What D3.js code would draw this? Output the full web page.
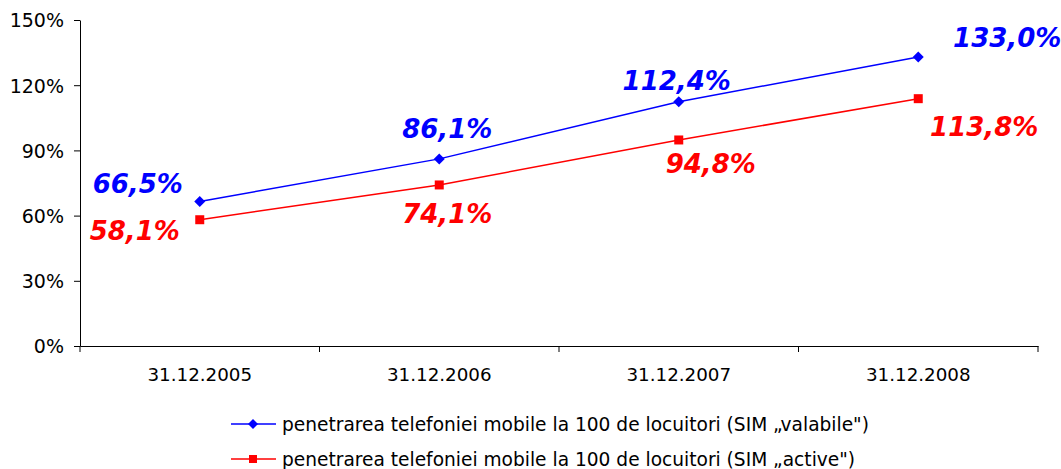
<!DOCTYPE html>
<html>
<head>
<meta charset="utf-8">
<script src="https://cdn.jsdelivr.net/npm/d3@7"></script>
<style>
  body { margin: 0; background: #fff; }
  svg { display: block; font-family: "DejaVu Sans", Verdana, sans-serif; }
</style>
</head>
<body>
<svg id="chart" width="1061" height="469"></svg>
<script>
  /*
    Data
  */
  const dates = ["31.12.2005", "31.12.2006", "31.12.2007", "31.12.2008"];
  const valabile = [66.5, 86.1, 112.4, 133.0];
  const active = [58.1, 74.1, 94.8, 113.8];
  const yTicks = [0, 30, 60, 90, 120, 150];
  const legendLabels = [
    "penetrarea telefoniei mobile la 100 de locuitori (SIM \u201evalabile\")",
    "penetrarea telefoniei mobile la 100 de locuitori (SIM \u201eactive\")"
  ];

  // label placement relative to each point (dx, dy of baseline)
  const blueOffsets = [[-62, -8], [8, -21], [-2, -12], [89, -10]];
  const redOffsets = [[-65, 20], [8, 38], [32, 33], [66, 37]];

  const svg = d3.select("#chart");
  const margin = { left: 80, right: 23, top: 20, bottom: 123 };
  const width = 1061 - margin.left - margin.right;
  const height = 469 - margin.top - margin.bottom;

  const g = svg.append("g").attr("transform", `translate(${margin.left},${margin.top})`);

  let x = d3.scaleBand().domain(dates).range([0, width]);
  let y = d3.scaleLinear().domain([0, 150]).range([height, 0]);

  const fmt = v => v.toFixed(1).replace(".", ",") + "%";

  // square diamond (equal diagonals), r = half diagonal
  const diamond = r => `M0,${-r}L${r},0L0,${r}L${-r},0Z`;
  const square = r => `M${-r},${-r}H${r}V${r}H${-r}Z`;

  /*
    Axes
  */
  let yAxis = g.append("g")
    .call(d3.axisLeft(y).tickValues(yTicks).tickSize(6).tickSizeOuter(0).tickFormat(d => d + "%"));
  yAxis.select(".domain").attr("stroke", "#000");
  yAxis.selectAll("text").attr("font-size", 19).attr("fill", "#000").attr("font-family", "DejaVu Sans").attr("x", -16).attr("dy", "0.36em");

  let xAxis = g.append("g").attr("transform", `translate(0,${height})`)
    .call(d3.axisBottom(x).tickSize(0).tickSizeOuter(0));
  xAxis.selectAll("text").attr("font-size", 18.3).attr("fill", "#000").attr("font-family", "DejaVu Sans").attr("dy", "1.75em");
  // tick marks at band boundaries
  const bounds = dates.map(d => x(d)).concat([width]);
  xAxis.selectAll(".bnd").data(bounds).enter().append("line")
    .attr("x1", d => d).attr("x2", d => d).attr("y1", 0).attr("y2", 6)
    .attr("stroke", "#000");

  /*
    Series
  */
  const line = d3.line().x((d, i) => x(dates[i]) + x.bandwidth() / 2).y(d => y(d));

  function drawSeries(values, color, shape, offsets) {
    g.append("path").datum(values)
      .attr("fill", "none").attr("stroke", color).attr("stroke-width", 1.5)
      .attr("d", line);
    g.selectAll(null).data(values).enter().append("path")
      .attr("transform", (d, i) => `translate(${x(dates[i]) + x.bandwidth() / 2},${y(d)})`)
      .attr("d", shape === "diamond" ? diamond(5.5) : square(4.5))
      .attr("fill", color);
    g.selectAll(null).data(values).enter().append("text")
      .attr("x", (d, i) => x(dates[i]) + x.bandwidth() / 2 + offsets[i][0])
      .attr("y", (d, i) => y(d) + offsets[i][1])
      .attr("text-anchor", "middle")
      .attr("font-size", 26).attr("font-weight", "bold").attr("font-style", "italic")
      .attr("fill", color)
      .text(fmt);
  }

  drawSeries(valabile, "#0000ff", "diamond", blueOffsets);
  drawSeries(active, "#ff0000", "square", redOffsets);

  /*
    Legend
  */
  const legend = svg.append("g").attr("transform", "translate(231,424)");
  const legendItems = [
    { label: legendLabels[0], color: "#0000ff", shape: "diamond" },
    { label: legendLabels[1], color: "#ff0000", shape: "square" }
  ];
  legendItems.forEach((item, i) => {
    const row = legend.append("g").attr("transform", `translate(0,${i * 35})`);
    row.append("line").attr("x1", 0).attr("x2", 45).attr("stroke", item.color).attr("stroke-width", 1.5);
    row.append("path").attr("transform", "translate(22,0)")
      .attr("d", item.shape === "diamond" ? diamond(5) : square(4))
      .attr("fill", item.color);
    row.append("text").attr("x", 51).attr("y", 0).attr("dy", "0.36em")
      .attr("font-size", 18.6).attr("fill", "#000")
      .text(item.label);
  });
</script>
</body>
</html>
